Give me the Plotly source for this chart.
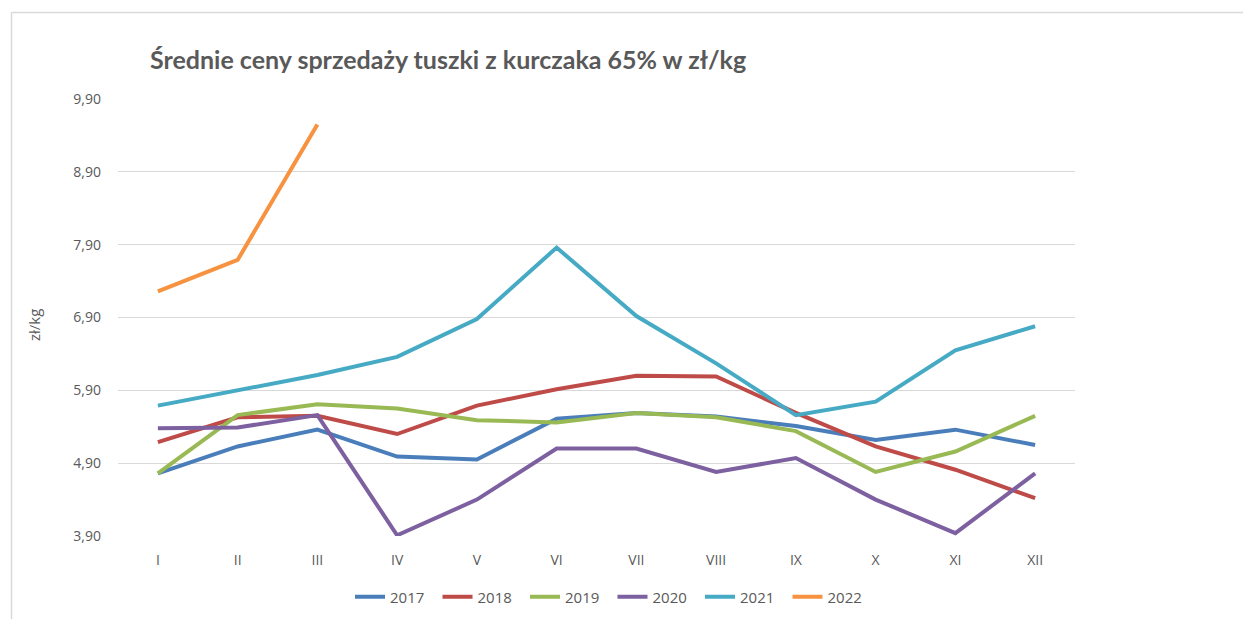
import plotly.graph_objects as go

months = ["I", "II", "III", "IV", "V", "VI", "VII", "VIII", "IX", "X", "XI", "XII"]
y2017 = [4.76, 5.13, 5.36, 4.99, 4.95, 5.51, 5.59, 5.54, 5.41, 5.22, 5.36, 5.15]
y2018 = [5.19, 5.53, 5.55, 5.30, 5.69, 5.915, 6.10, 6.09, 5.59, 5.13, 4.81, 4.42]
y2019 = [4.76, 5.56, 5.71, 5.65, 5.49, 5.46, 5.59, 5.53, 5.34, 4.78, 5.06, 5.55]
y2020 = [5.38, 5.39, 5.56, 3.91, 4.40, 5.10, 5.10, 4.78, 4.97, 4.40, 3.94, 4.76]
y2021 = [5.69, 5.90, 6.11, 6.36, 6.88, 7.86, 6.92, 6.27, 5.56, 5.745, 6.45, 6.78]
y2022 = [7.26, 7.69, 9.55]

series_names = ["2017", "2018", "2019", "2020", "2021", "2022"]
series_values = [y2017, y2018, y2019, y2020, y2021, y2022]
colors = ["#4a7ebb", "#be4b48", "#98b954", "#7d60a0", "#46aac5", "#f69240"]

y_ticks = [3.9, 4.9, 5.9, 6.9, 7.9, 8.9, 9.9]
y_ticktext = ["3,90", "4,90", "5,90", "6,90", "7,90", "8,90", "9,90"]

fig = go.Figure()
for name, vals, c in zip(series_names, series_values, colors):
    fig.add_trace(go.Scatter(
        x=months[:len(vals)], y=vals, name=name, mode="lines",
        line=dict(color=c, width=4, shape="linear"),
    ))

W, H = 1243, 619
# page positions of the plot area
pl, pr, pt, pb = 118, 1075, 99, 536
ml, mt = pl, pt
pw, ph = pr - pl, pb - pt
mr = W - ml - pw
mb = H - mt - ph

def px_x(x):  # page x -> paper
    return (x - pl) / pw

def px_y(y):  # page y -> paper
    return (pb - y) / ph

fig.update_layout(
    width=W, height=H,
    margin=dict(l=ml, r=mr, t=mt, b=mb, pad=0, autoexpand=False),
    paper_bgcolor="white", plot_bgcolor="white",
    font=dict(family="Open Sans, Liberation Sans, sans-serif", color="#595959", size=14),
    title=dict(
        text="<b>Średnie ceny sprzedaży tuszki z kurczaka 65% w zł/kg</b>",
        x=px_x(150), xref="paper", xanchor="left",
        y=1 - 60 / H, yref="container", yanchor="middle",
        font=dict(family="Lato, Open Sans, sans-serif", size=25, color="#595959"),
    ),
    xaxis=dict(
        type="category", categoryorder="array", categoryarray=months,
        range=[-0.5, 11.5], showgrid=False, zeroline=False,
        showline=False, ticks="", ticklabelstandoff=14,
        tickfont=dict(size=14, color="#595959"),
        fixedrange=True, automargin=False,
    ),
    yaxis=dict(
        range=[3.9, 9.9], tickvals=y_ticks, ticktext=y_ticktext,
        showgrid=True, gridcolor="#d9d9d9", gridwidth=1,
        zeroline=False, showline=False, ticks="", ticklabelstandoff=16,
        tickfont=dict(size=14, color="#595959"), automargin=False,
    ),
    annotations=[dict(
        text="zł/kg", xref="paper", yref="paper", x=px_x(34), y=px_y(325),
        xanchor="center", yanchor="middle", textangle=-90, showarrow=False,
        font=dict(size=15, color="#595959"),
    )],
    legend=dict(
        orientation="h", x=px_x(350), xanchor="left",
        y=px_y(597), yanchor="middle",
        font=dict(size=15, color="#595959"),
        entrywidth=42.5, entrywidthmode="pixels", tracegroupgap=0,
    ),
    showlegend=True,
    shapes=[
        dict(type="line", xref="paper", yref="paper",
             x0=px_x(11.5), x1=px_x(1260), y0=px_y(12.5), y1=px_y(12.5),
             line=dict(color="#d9d9d9", width=1.5)),
        dict(type="line", xref="paper", yref="paper",
             x0=px_x(11.5), x1=px_x(11.5), y0=px_y(12.5), y1=px_y(640),
             line=dict(color="#d9d9d9", width=1.5)),
    ],
)

fig.write_html(
    "out.html",
    config={"displayModeBar": False},
    post_script="document.body.style.margin='0';document.body.style.overflow='hidden';",
)
